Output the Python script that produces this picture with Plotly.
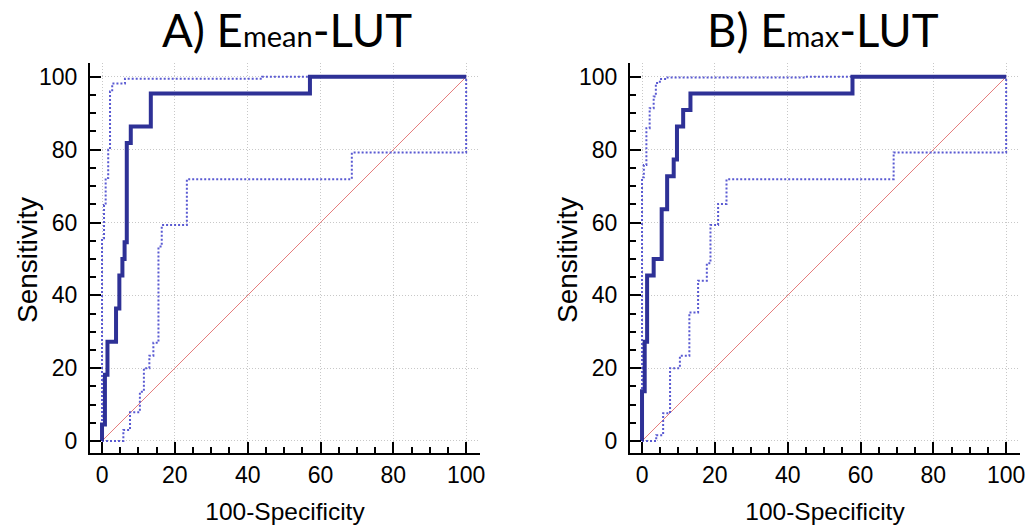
import plotly.graph_objects as go

# ---------------- data ----------------
# Panel A: Emean-LUT
a_fpr = [0, 0, 0.8, 1.5, 3.85, 4.76, 5.6, 6.2, 6.8, 7.9, 13.4, 57.1, 100]
a_tpr = [0, 4.55, 18.18, 27.27, 36.36, 45.45, 50.0, 54.55, 81.82, 86.36, 95.45, 100, 100]
a_up_fpr = [0, 0, 0.55, 1.0, 1.7, 2.2, 2.8, 6.3, 44, 100]
a_up_tpr = [0, 55.7, 64.8, 72.2, 80.0, 96.0, 98.2, 99.5, 100, 100]
a_lo_fpr = [0, 5.86, 7.69, 10.4, 11.5, 13.0, 14.1, 15.5, 16.4, 23.3, 68.6, 100]
a_lo_tpr = [0, 3.0, 7.9, 13.5, 20.0, 23.4, 27.0, 53.4, 59.3, 71.9, 79.2, 100]

# Panel B: Emax-LUT
b_fpr = [0, 0, 0.74, 1.4, 3.2, 5.4, 6.9, 8.7, 9.6, 11.3, 13.3, 57.8, 100]
b_tpr = [0, 13.64, 27.27, 45.45, 50.0, 63.64, 72.73, 77.27, 86.36, 90.91, 95.45, 100, 100]
b_up_fpr = [0, 0, 0.5, 1.2, 2.1, 3.2, 3.8, 4.9, 6.7, 45, 100]
b_up_tpr = [0, 72.4, 75.8, 85.9, 91.4, 94.6, 98.3, 99.4, 99.8, 100, 100]
b_lo_fpr = [0, 3.9, 5.8, 7.7, 10.4, 13.0, 15.4, 17.8, 18.8, 20.9, 23.2, 69.1, 100]
b_lo_tpr = [0, 1.6, 7.6, 20.0, 23.4, 35.3, 44.0, 48.8, 59.3, 65.1, 71.9, 79.2, 100]

diag = [0, 100]
tick_vals = [0, 20, 40, 60, 80, 100]
titles = ["A) E<span style='font-size:29px'>mean</span>-LUT",
          "B) E<span style='font-size:29px'>max</span>-LUT"]
x_title = "100-Specificity"
y_title = "Sensitivity"

# ---------------- styling ----------------
MAIN = "#2e3196"
CI = "#5a5ad2"
DIAG = "#e57c7c"
W, H = 1032, 529

fig = go.Figure()

panels = [
    (a_fpr, a_tpr, a_up_fpr, a_up_tpr, a_lo_fpr, a_lo_tpr, "x", "y"),
    (b_fpr, b_tpr, b_up_fpr, b_up_tpr, b_lo_fpr, b_lo_tpr, "x2", "y2"),
]
for fpr, tpr, ufpr, utpr, lfpr, ltpr, xa, ya in panels:
    fig.add_trace(go.Scatter(x=diag, y=diag, mode="lines", xaxis=xa, yaxis=ya,
                             line=dict(color=DIAG, width=1), showlegend=False,
                             hoverinfo="skip"))
    for cx, cy in ((ufpr, utpr), (lfpr, ltpr)):
        fig.add_trace(go.Scatter(x=cx, y=cy, mode="lines", xaxis=xa, yaxis=ya,
                                 line=dict(color=CI, width=2, shape="hv", dash="2px,2px"),
                                 showlegend=False))
    fig.add_trace(go.Scatter(x=fpr, y=tpr, mode="lines", xaxis=xa, yaxis=ya,
                             line=dict(color=MAIN, width=4, shape="hv"),
                             showlegend=False))

rng = [-3.3, 103.8]
FONT = "Liberation Sans, Arial, sans-serif"
tick_font = dict(family=FONT, size=23, color="black")
title_font = dict(family=FONT, size=24.5, color="black")


def axis(domain, anchor, title, standoff, lab_standoff):
    d = dict(
        domain=domain, anchor=anchor, range=rng, autorange=False,
        tickvals=tick_vals, ticks="inside", ticklen=11, tickwidth=2, tickcolor="black",
        showline=True, linecolor="black", linewidth=2, mirror=False,
        showgrid=True, gridcolor="#c8c8c8", gridwidth=1, griddash="1px,2px",
        zeroline=False, tickfont=tick_font, automargin=False,
        ticklabelstandoff=lab_standoff,
        minor=dict(dtick=5, tick0=0, ticks="inside", ticklen=6, tickwidth=1.5,
                   tickcolor="black", showgrid=False),
        fixedrange=True,
    )
    if title:
        d["title"] = dict(text=title, font=title_font, standoff=standoff)
    return d


ydom = [(H - 453) / H, (H - 63) / H]
fig.update_layout(
    width=W, height=H,
    margin=dict(l=0, r=0, t=0, b=0),
    paper_bgcolor="white", plot_bgcolor="white",
    xaxis=axis([90 / W, 480 / W], "y", x_title, 16, 0),
    yaxis=axis(ydom, "x", None, 0, 6),
    xaxis2=axis([630 / W, 1020 / W], "y2", x_title, 16, 0),
    yaxis2=axis(ydom, "x2", None, 0, 6),
)

for i, t in enumerate(titles):
    cx = [287, 823][i]
    fig.add_annotation(text=t, x=cx / W, y=(H - 30) / H, xref="paper", yref="paper",
                       showarrow=False, xanchor="center", yanchor="middle",
                       font=dict(family="Lato, Open Sans, sans-serif", size=45.5, color="black"))
    # y-axis titles
    fig.add_annotation(text=y_title, x=[27, 567][i] / W, y=(H - 260) / H,
                       xref="paper", yref="paper", showarrow=False, textangle=-90,
                       xanchor="center", yanchor="middle",
                       font=dict(family=FONT, size=28, color="black"))

fig.write_html("out.html", post_script="document.body.style.margin='0';",
               config={"displayModeBar": False})
